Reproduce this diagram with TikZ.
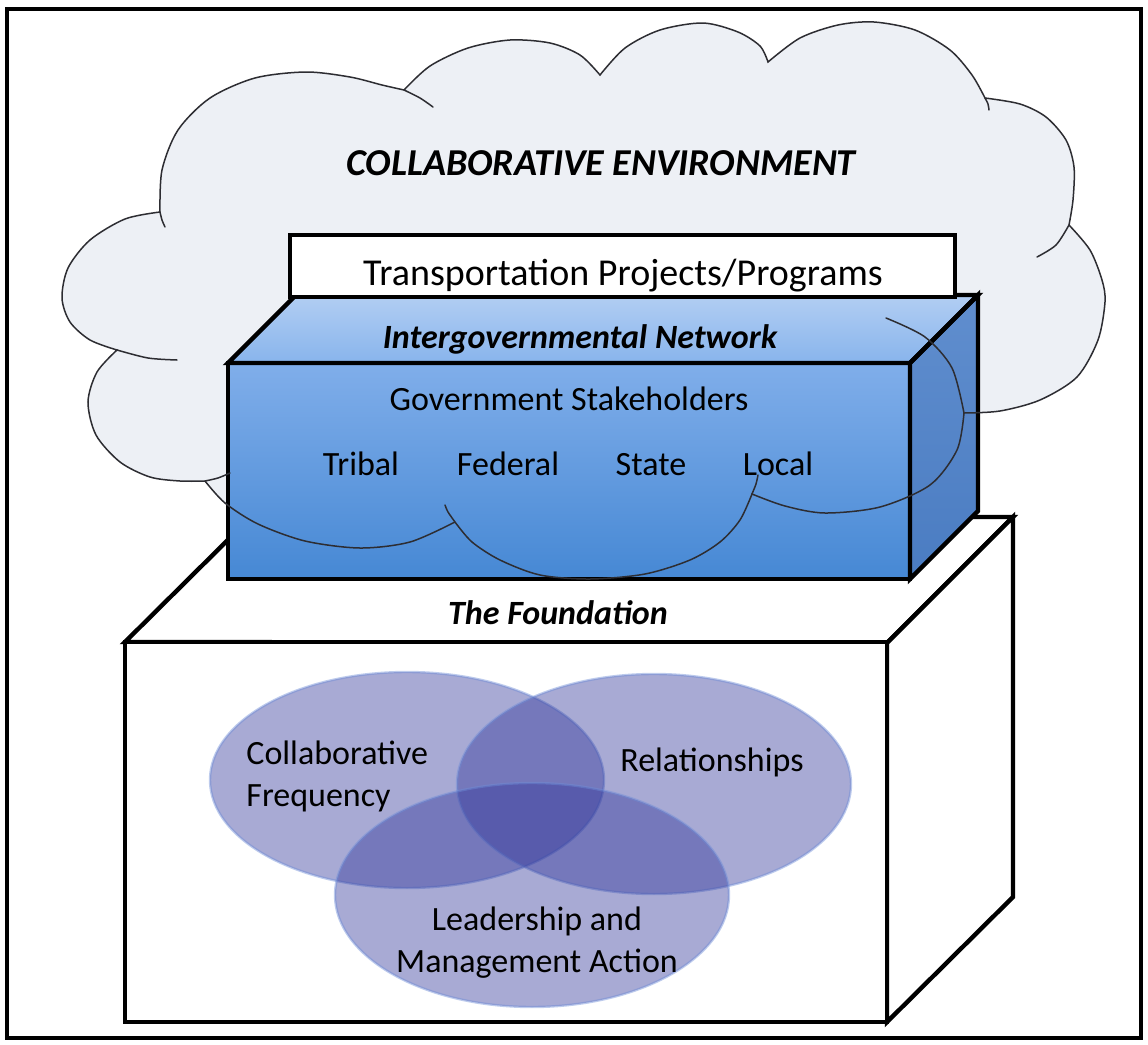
\documentclass[tikz,border=0pt]{standalone}
\usepackage{fontspec}
\setmainfont{Carlito}
\definecolor{cloudfill}{RGB}{237,240,245}
\definecolor{cloudline}{RGB}{45,45,50}
\definecolor{frontTop}{RGB}{128,174,234}
\definecolor{frontBot}{RGB}{70,136,212}
\definecolor{topBack}{RGB}{178,206,243}
\definecolor{topFront}{RGB}{136,180,236}
\definecolor{sideTop}{RGB}{96,142,206}
\definecolor{sideBot}{RGB}{74,124,194}
\definecolor{venn}{RGB}{48,53,153}
\definecolor{vennedge}{RGB}{110,140,215}
\begin{document}
\begin{tikzpicture}[x=0.5pt,y=-0.5pt,
  outerframe/.style={draw=black,line width=2pt},
  solidbox/.style={draw=black,line width=2.2pt,line join=miter,fill=white},
  bluebox/.style={draw=black,line width=2.2pt,line join=miter},
  cloudstroke/.style={draw=cloudline,line width=0.75pt,line cap=round},
  vennset/.style={fill=venn,fill opacity=0.42,draw=vennedge,draw opacity=0.45,line width=1.2pt},
  txt/.style={inner sep=0pt,anchor=base,font=\fontsize{17}{20.4}\selectfont},
  boldtxt/.style={inner sep=0pt,anchor=base,font=\fontsize{17}{20.4}\selectfont\bfseries\itshape},
]
\useasboundingbox (0,0) rectangle (1148,1045);
\fill[white] (0,0) rectangle (1148,1045);

\def\cloudpath{plot[smooth] coordinates {(455,522) (410,542) (360,548) (305,541) (258,524) (225,503) (205,481)}
 -- plot[smooth] coordinates {(205,481) (180,481) (150,477) (120,462) (96,435) (88,402) (97,372) (117,350)}
 -- plot[smooth] coordinates {(117,350) (90,340) (70,322) (62,298) (68,268) (90,240) (125,219) (160,212)}
 -- plot[smooth] coordinates {(160,212) (162,170) (178,130) (210,98) (255,78) (306,72) (350,77) (382,85) (404,90)}
 -- plot[smooth] coordinates {(404,90) (430,66) (468,48) (510,40) (550,43) (580,55) (600,75)}
 -- plot[smooth] coordinates {(600,75) (625,48) (660,30) (703,23) (738,32) (760,46) (768,62)}
 -- plot[smooth] coordinates {(768,62) (800,38) (838,25) (874,22) (915,30) (950,50) (972,75) (985,98)}
 -- plot[smooth] coordinates {(985,98) (1020,104) (1046,117) (1066,140) (1074,167) (1073,200) (1069,225)}
 -- plot[smooth] coordinates {(1069,225) (1090,250) (1102,280) (1105,302) (1098,340) (1077,377) (1040,400) (1000,411) (964,413)}
 -- plot[smooth] coordinates {(964,413) (957,450) (930,485) (880,507) (825,513) (785,506) (752,494)}
 -- plot[smooth] coordinates {(752,494) (740,520) (720,542) (690,560) (645,574) (590,579) (540,575) (500,560) (472,542) (455,522)}}

% cloud body
\fill[cloudfill] \cloudpath -- cycle;

% foundation cuboid
\draw[solidbox] (125,642) -- (251,517) -- (1013,517) -- (887,643) -- cycle;
\draw[solidbox] (887,643) -- (1013,517) -- (1013,897) -- (887,1022) -- cycle;
\draw[solidbox] (125,642) rectangle (887,1022);

% intergovernmental network box
\shade[top color=topBack,bottom color=topFront] (228,363) -- (296,295) -- (978,295) -- (910,363) -- cycle;
\shade[top color=sideTop,bottom color=sideBot] (910,363) -- (978,295) -- (978,511) -- (910,579) -- cycle;
\shade[top color=frontTop,bottom color=frontBot] (228,363) rectangle (910,579);
\draw[bluebox] (228,363) -- (296,295) -- (978,295) -- (910,363) -- cycle;
\draw[bluebox] (910,363) -- (978,295) -- (978,511) -- (910,579) -- cycle;
\draw[bluebox] (228,363) rectangle (910,579);

% transportation box
\draw[solidbox] (290,235) rectangle (955,297);

% cloud outline drawn over the boxes
\draw[cloudstroke] \cloudpath;
\draw[cloudstroke] plot[smooth] coordinates {(205,481) (218,478) (230,473)};
\draw[cloudstroke] plot[smooth] coordinates {(117,350) (148,358) (177,360)};
\draw[cloudstroke] plot[smooth] coordinates {(160,212) (162,220) (165,227)};
\draw[cloudstroke] plot[smooth] coordinates {(404,90) (420,98) (433,107)};
\draw[cloudstroke] plot[smooth] coordinates {(985,98) (988,104) (989,110)};
\draw[cloudstroke] plot[smooth] coordinates {(1069,225) (1056,245) (1037,257)};
\draw[cloudstroke] plot[smooth] coordinates {(886,318) (925,337) (952,368) (964,413)};
\draw[cloudstroke] plot[smooth] coordinates {(752,494) (756,484) (758,475)};
\draw[cloudstroke] plot[smooth] coordinates {(455,522) (448,512) (445,505)};

% Venn diagram
\path[vennset] (407,780) ellipse [x radius=197, y radius=108];
\path[vennset] (654,784) ellipse [x radius=197, y radius=110];
\path[vennset] (532,895) ellipse [x radius=197, y radius=112];

% outer frame
\draw[outerframe] (7,9) rectangle (1141,1038);

% texts
\node[boldtxt,font=\fontsize{19}{22}\selectfont\bfseries\itshape] (env) at (601,175) {COLLABORATIVE ENVIRONMENT};
\node[txt,font=\fontsize{19}{22}\selectfont] (tpp) at (623,285) {Transportation Projects/Programs};
\node[boldtxt] (ign) at (580,348) {Intergovernmental Network};
\node[txt] (gs) at (569,410) {Government Stakeholders};
\node[txt] (tribal) at (361,475) {Tribal};
\node[txt] (federal) at (508,475) {Federal};
\node[txt] (state) at (651,475) {State};
\node[txt] (local) at (778,475) {Local};
\node[boldtxt] (found) at (558,624) {The Foundation};
\node[txt,anchor=base west] (cf1) at (246,764) {Collaborative};
\node[txt,anchor=base west] (cf2) at (246,806) {Frequency};
\node[txt] (rel) at (712,771) {Relationships};
\node[txt] (lma1) at (537,930) {Leadership and};
\node[txt] (lma2) at (537,972) {Management Action};
\end{tikzpicture}
\end{document}
